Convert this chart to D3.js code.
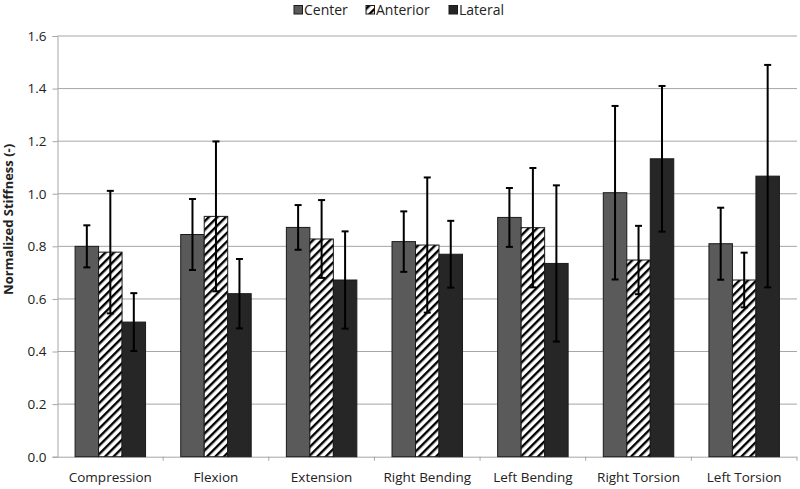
<!DOCTYPE html>
<html><head><meta charset="utf-8">
<script src="https://cdn.jsdelivr.net/npm/d3@7"></script>
<style>body{margin:0;background:#fff}svg{display:block}text{font-family:"Open Sans",sans-serif}</style>
</head><body>
<svg id="c" width="800" height="489"></svg>
<script>
const categories = ["Compression","Flexion","Extension","Right Bending","Left Bending","Right Torsion","Left Torsion"];
const seriesNames = ["Center","Anterior","Lateral"];
const centerVals  = [0.80, 0.845, 0.872, 0.818, 0.910, 1.004, 0.810];
const centerErr   = [0.080, 0.135, 0.085, 0.115, 0.112, 0.330, 0.137];
const anteriorVals= [0.778, 0.914, 0.828, 0.805, 0.871, 0.748, 0.672];
const anteriorErr = [0.233, 0.285, 0.148, 0.257, 0.227, 0.130, 0.104];
const lateralVals = [0.512, 0.620, 0.672, 0.770, 0.735, 1.133, 1.067];
const lateralErr  = [0.110, 0.132, 0.185, 0.127, 0.297, 0.277, 0.423];
const yTicks = [0,0.2,0.4,0.6,0.8,1.0,1.2,1.4,1.6];

const vals = [centerVals, anteriorVals, lateralVals];
const errs = [centerErr, anteriorErr, lateralErr];
const fills = ["#5a5a5a","url(#hatch)","#262626"];
const FONT = "'Open Sans',sans-serif";

const svg = d3.select("#c");
const defs = svg.append("defs");
const pat = defs.append("pattern").attr("id","hatch").attr("patternUnits","userSpaceOnUse")
  .attr("width",6).attr("height",6).attr("patternTransform","rotate(45)");
pat.append("rect").attr("width",6).attr("height",6).attr("fill","#fff");
pat.append("rect").attr("x",0).attr("width",2.4).attr("height",6).attr("fill","#000");

const L = 57.5, R = 797, T = 36, B = 456.7;
const x0 = d3.scaleBand().domain(categories).range([L,R]).paddingInner(0.333).paddingOuter(0.1665);
const x1 = d3.scaleBand().domain(seriesNames).range([0,x0.bandwidth()]);
const y = d3.scaleLinear().domain([0,1.6]).range([B,T]);

// gridlines
svg.append("g").selectAll("line").data(yTicks.slice(1)).join("line")
  .attr("x1",L).attr("x2",R).attr("y1",d=>y(d)).attr("y2",d=>y(d))
  .attr("stroke","#a6a6a6").attr("stroke-width",1);

// y axis
const ya = svg.append("g").attr("transform",`translate(${L},0)`)
  .call(d3.axisLeft(y).tickValues(yTicks).tickFormat(d3.format(".1f")).tickSize(5).tickPadding(6));
ya.select(".domain").attr("stroke","#a6a6a6");
ya.selectAll(".tick line").attr("stroke","#a6a6a6");
ya.selectAll("text").attr("font-size",13.5).attr("fill","#222").style("font-family",FONT);

// x axis
const bandStep = (R-L)/categories.length;
const xa = svg.append("g").attr("transform",`translate(0,${B})`)
  .call(d3.axisBottom(x0).tickSize(0).tickPadding(16));
xa.select(".domain").attr("stroke","#a6a6a6").attr("d",`M${L},0.5H${R}`);
xa.selectAll("text").attr("font-size",13.5).attr("fill","#222").style("font-family",FONT);
svg.append("g").selectAll("line").data(d3.range(1,categories.length+1)).join("line")
  .attr("x1",i=>L+i*bandStep).attr("x2",i=>L+i*bandStep).attr("y1",B).attr("y2",B+4)
  .attr("stroke","#a6a6a6");

// bars
seriesNames.forEach((s,si)=>{
  const g = svg.append("g");
  g.selectAll("rect").data(categories).join("rect")
    .attr("x",(c)=>x0(c)+x1(s)).attr("width",x1.bandwidth())
    .attr("y",(c,i)=>y(vals[si][i])).attr("height",(c,i)=>B-y(vals[si][i]))
    .attr("fill",fills[si]).attr("stroke","#1a1a1a").attr("stroke-width",1);
});
// error bars
seriesNames.forEach((s,si)=>{
  const g = svg.append("g").attr("stroke","#000").attr("stroke-width",2);
  categories.forEach((c,i)=>{
    const cx = x0(c)+x1(s)+x1.bandwidth()/2;
    const hi = y(vals[si][i]+errs[si][i]), lo = y(vals[si][i]-errs[si][i]);
    g.append("line").attr("x1",cx).attr("x2",cx).attr("y1",hi).attr("y2",lo);
    g.append("line").attr("x1",cx-3.5).attr("x2",cx+3.5).attr("y1",hi).attr("y2",hi);
    g.append("line").attr("x1",cx-3.5).attr("x2",cx+3.5).attr("y1",lo).attr("y2",lo);
  });
});

// y title
svg.append("text").attr("transform",`translate(10,${(T+B)/2-27}) rotate(-90)`)
  .attr("text-anchor","middle").attr("dominant-baseline","middle")
  .attr("font-size",13).attr("font-weight","bold").attr("fill","#222").text("Normalized Stiffness (-)");

// legend
const legX = [294, 366, 449];
seriesNames.forEach((s,si)=>{
  svg.append("rect").attr("x",legX[si]).attr("y",5.5).attr("width",8.5).attr("height",8.5)
    .attr("fill",fills[si]).attr("stroke","#1a1a1a").attr("stroke-width",1);
  svg.append("text").attr("x",legX[si]+10).attr("y",15).attr("font-size",14)
    .attr("fill","#222").text(s);
});
</script>
</body></html>
